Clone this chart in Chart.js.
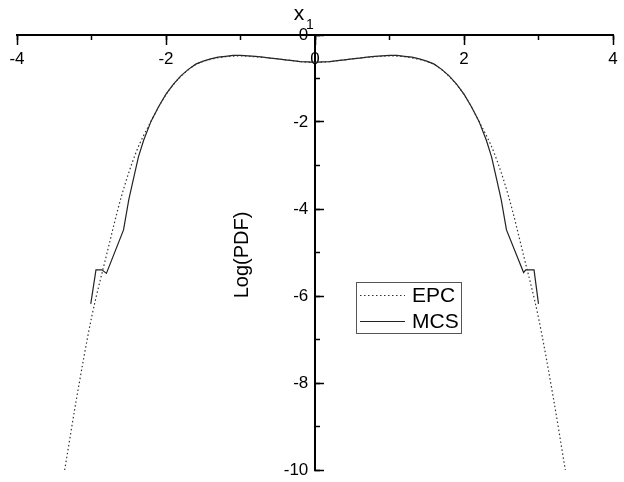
<!DOCTYPE html>
<html>
<head>
<meta charset="utf-8">
<script src="https://cdn.jsdelivr.net/npm/chart.js@4/dist/chart.umd.min.js"></script>
<style>
html, body { margin: 0; padding: 0; background: #fff; }
</style>
</head>
<body>
<canvas id="chart-pdf" width="624" height="482"></canvas>
<script>
// EPC curve (dotted)
var epc_x = [-3.36, -3.2, -3.0, -2.8, -2.6, -2.4, -2.2, -2.0, -1.8, -1.6, -1.4, -1.2, -1.0, -0.8, -0.6, -0.4, -0.2, 0,
             0.2, 0.4, 0.6, 0.8, 1.0, 1.2, 1.4, 1.6, 1.8, 2.0, 2.2, 2.4, 2.6, 2.8, 3.0, 3.2, 3.36];
var epc_y = [-10, -8.35, -6.5, -5.07, -3.72, -2.69, -1.98, -1.37, -0.95, -0.68, -0.56, -0.50, -0.48, -0.50, -0.53, -0.57, -0.61, -0.63,
             -0.61, -0.57, -0.53, -0.50, -0.48, -0.50, -0.56, -0.68, -0.95, -1.37, -1.98, -2.69, -3.72, -5.07, -6.5, -8.35, -10];

// MCS curve (solid, straight segments)
var mcs_x = [-3.01, -2.94, -2.86, -2.80, -2.57, -2.50, -2.44, -2.37, -2.3, -2.2, -2.1, -2.0, -1.9, -1.8, -1.7, -1.6, -1.5, -1.4, -1.3, -1.2, -1.1,
             -1.0, -0.9, -0.8, -0.7, -0.6, -0.5, -0.4, -0.3, -0.2, -0.1, 0,
             0.1, 0.2, 0.3, 0.4, 0.5, 0.6, 0.7, 0.8, 0.9, 1.0,
             1.1, 1.2, 1.3, 1.4, 1.5, 1.6, 1.7, 1.8, 1.9, 2.0, 2.1, 2.2, 2.3, 2.37, 2.44, 2.50, 2.57, 2.80, 2.83, 2.94, 3.00];
var mcs_y = [-6.18, -5.40, -5.40, -5.48, -4.48, -3.79, -3.33, -2.80, -2.42, -1.98, -1.65, -1.36, -1.13, -0.94, -0.79, -0.67, -0.60, -0.55, -0.51, -0.49, -0.47,
             -0.47, -0.48, -0.49, -0.51, -0.53, -0.55, -0.57, -0.59, -0.61, -0.62, -0.63,
             -0.62, -0.61, -0.59, -0.57, -0.55, -0.53, -0.51, -0.49, -0.48, -0.47,
             -0.47, -0.49, -0.51, -0.55, -0.60, -0.67, -0.79, -0.94, -1.13, -1.36, -1.65, -1.98, -2.42, -2.80, -3.33, -3.79, -4.48, -5.46, -5.40, -5.40, -6.18];

var x_range = [-4, 4];
var y_range = [-10, 0];
var series_names = ['EPC', 'MCS'];

function pts(xs, ys) {
  var out = [];
  for (var i = 0; i < xs.length; i++) out.push({x: xs[i], y: ys[i]});
  return out;
}

var tickFont = {size: 17, family: "Liberation Sans"};

function noPad(s) { s.paddingLeft = 0; s.paddingRight = 0; s.paddingTop = 0; s.paddingBottom = 0; }

var pdfDecor = {
  id: 'pdfDecor',
  afterDraw: function(chart) {
    var ctx = chart.ctx;
    ctx.save();
    ctx.fillStyle = '#000';
    ctx.textAlign = 'center';
    ctx.textBaseline = 'middle';
    // axis titles
    ctx.font = '21px "Liberation Sans"';
    ctx.fillText('x', 299, 14);
    ctx.font = '14px "Liberation Sans"';
    ctx.fillText('1', 310, 25);
    ctx.save();
    ctx.translate(242, 255);
    ctx.rotate(-Math.PI / 2);
    ctx.font = '20px "Liberation Sans"';
    ctx.fillText('Log(PDF)', 0, 0);
    ctx.restore();

    // legend
    ctx.fillStyle = '#fff';
    ctx.fillRect(357, 283, 104, 50);
    ctx.strokeStyle = '#555';
    ctx.lineWidth = 1;
    ctx.strokeRect(356.5, 282.5, 105, 51);
    ctx.font = '21px "Liberation Sans"';
    ctx.textAlign = 'left';
    chart.data.datasets.forEach(function(ds, i) {
      var ly = 295.5 + i * 26;
      ctx.save();
      ctx.strokeStyle = ds.borderColor;
      ctx.lineWidth = ds.borderWidth;
      ctx.setLineDash(ds.borderDash || []);
      ctx.beginPath();
      ctx.moveTo(360, ly);
      ctx.lineTo(405, ly);
      ctx.stroke();
      ctx.restore();
      ctx.fillStyle = '#000';
      ctx.fillText(ds.label, 412, ly + 1);
    });
    ctx.restore();
  }
};

var ctx = document.getElementById('chart-pdf').getContext('2d');
new Chart(ctx, {
  type: 'line',
  data: {
    datasets: [{
      label: series_names[0],
      data: pts(epc_x, epc_y),
      borderColor: '#333',
      borderWidth: 1.2,
      borderDash: [1.5, 2.5],
      pointRadius: 0,
      cubicInterpolationMode: 'monotone',
      fill: false
    }, {
      label: series_names[1],
      data: pts(mcs_x, mcs_y),
      borderColor: '#222',
      borderWidth: 1.2,
      pointRadius: 0,
      tension: 0,
      fill: false
    }]
  },
  options: {
    responsive: false,
    animation: false,
    devicePixelRatio: 1,
    layout: {padding: {left: 17, right: 11, top: 35, bottom: 12}},
    plugins: {
      legend: {display: false},
      tooltip: {enabled: false},
      title: {display: false}
    },
    scales: {
      x: {
        type: 'linear',
        position: {y: 0},
        min: x_range[0], max: x_range[1],
        afterFit: noPad,
        ticks: {stepSize: 2, color: '#000', font: tickFont, padding: 5, maxRotation: 0},
        grid: {drawOnChartArea: false, drawTicks: true, tickLength: 9, tickColor: '#000', tickWidth: 1.5},
        border: {color: '#000', width: 2}
      },
      xMinor: {
        type: 'linear',
        position: {y: 0},
        min: x_range[0], max: x_range[1],
        afterFit: noPad,
        ticks: {stepSize: 1, display: false},
        grid: {drawOnChartArea: false, drawTicks: true, tickLength: 5, tickColor: '#000', tickWidth: 1.5},
        border: {display: false}
      },
      y: {
        type: 'linear',
        position: {x: 0},
        min: y_range[0], max: y_range[1],
        afterFit: noPad,
        ticks: {stepSize: 2, display: false},
        grid: {drawOnChartArea: false, drawTicks: true, tickLength: -10, tickColor: '#000', tickWidth: 1.5},
        border: {color: '#000', width: 2}
      },
      yLabels: {
        type: 'linear',
        position: {x: -0.09},
        min: y_range[0], max: y_range[1],
        afterFit: noPad,
        ticks: {stepSize: 2, color: '#000', font: tickFont},
        grid: {display: false, drawOnChartArea: false, drawTicks: false},
        border: {display: false}
      },
      yMinor: {
        type: 'linear',
        position: {x: 0},
        min: y_range[0], max: y_range[1],
        afterFit: noPad,
        ticks: {stepSize: 1, display: false},
        grid: {drawOnChartArea: false, drawTicks: true, tickLength: -5, tickColor: '#000', tickWidth: 1.5},
        border: {display: false}
      }
    }
  },
  plugins: [pdfDecor]
});
</script>
</body>
</html>
